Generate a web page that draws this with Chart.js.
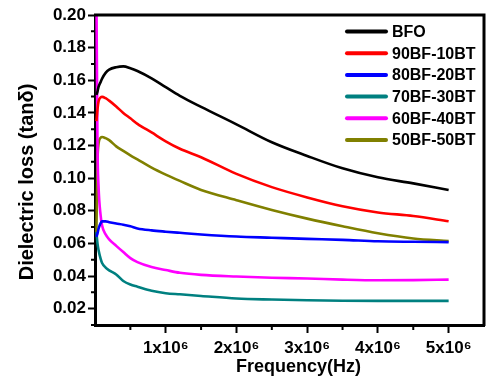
<!DOCTYPE html>
<html><head><meta charset="utf-8">
<script src="https://cdn.jsdelivr.net/npm/chart.js@4.4.1/dist/chart.umd.min.js"></script>
<style>html,body{margin:0;padding:0;background:#fff}</style>
</head><body>
<canvas id="c" width="486" height="380"></canvas>
<script>
// Frequency in Hz
const frequencies = [0.02e6,0.035e6,0.05e6,0.08e6,0.1e6,0.15e6,0.2e6,0.3e6,0.4e6,0.5e6,0.6e6,0.8e6,1.0e6,1.2e6,1.5e6,2.0e6,2.5e6,3.0e6,3.5e6,4.0e6,4.5e6,5.0e6];
const bfo      = [0.151,0.153,0.156,0.159,0.161,0.1645,0.1665,0.168,0.1685,0.1674,0.1657,0.1612,0.1558,0.1505,0.1437,0.133,0.122,0.1136,0.106,0.1005,0.0968,0.0927];
const bf90bt10 = [0.135,0.142,0.147,0.1495,0.1498,0.149,0.1475,0.1439,0.140,0.1367,0.1333,0.128,0.1226,0.118,0.1128,0.1026,0.0945,0.0882,0.0828,0.079,0.0768,0.0736];
const bf80bt20 = [0.064,0.066,0.069,0.0725,0.0735,0.0735,0.073,0.0722,0.0715,0.0705,0.0692,0.068,0.0672,0.0665,0.0655,0.0642,0.0635,0.0628,0.0622,0.0613,0.061,0.0608];
const bf70bt30 = [0.067,0.060,0.056,0.0505,0.048,0.0452,0.0435,0.041,0.037,0.0348,0.0335,0.031,0.0295,0.0288,0.0278,0.0262,0.0256,0.0252,0.0249,0.0248,0.0248,0.0248];
const bf60bt40 = [0.215,0.120,0.095,0.077,0.071,0.0655,0.0625,0.0585,0.0547,0.051,0.0485,0.0455,0.0437,0.042,0.0407,0.0397,0.039,0.0385,0.0378,0.0374,0.0375,0.0378];
const bf50bt50 = [0.067,0.110,0.121,0.1248,0.1252,0.1245,0.1233,0.1195,0.1167,0.114,0.1115,0.1065,0.1022,0.0983,0.0928,0.0865,0.0805,0.0752,0.0705,0.0662,0.063,0.0614];
const seriesLabels = ['BFO','90BF-10BT','80BF-20BT','70BF-30BT','60BF-40BT','50BF-50BT'];
const seriesColors = ['#000000','#ff0000','#0000ff','#008080','#ff00ff','#808000'];
const xTickValues = [1e6,2e6,3e6,4e6,5e6];
const xTickLabels = ['1x10\u2076','2x10\u2076','3x10\u2076','4x10\u2076','5x10\u2076'];
const xMinorValues = [0.5e6,1.5e6,2.5e6,3.5e6,4.5e6];
const yTickValues = [0.02,0.04,0.06,0.08,0.10,0.12,0.14,0.16,0.18,0.20];
const yMinorValues = [0.01,0.03,0.05,0.07,0.09,0.11,0.13,0.15,0.17,0.19];
const xTitle = 'Frequency(Hz)';
const yTitle = 'Dielectric loss (tan\u03b4)';

const allSeries = [bfo,bf90bt10,bf80bt20,bf70bt30,bf60bt40,bf50bt50];
const FONT = "'Liberation Sans', Arial, sans-serif";

const datasets = allSeries.map((vals, k) => ({
  label: seriesLabels[k],
  data: frequencies.map((f, i) => ({x: f, y: vals[i]})),
  borderColor: seriesColors[k],
  backgroundColor: seriesColors[k],
  borderWidth: 2.6,
  pointRadius: 0,
  cubicInterpolationMode: 'monotone',
  fill: false
}));

const decor = {
  id: 'decor',
  afterDraw(chart) {
    const {ctx, chartArea: {left, right, top, bottom}, scales: {x, y}} = chart;
    ctx.save();
    ctx.strokeStyle = '#000';
    ctx.lineWidth = 3;
    ctx.beginPath();
    ctx.moveTo(left - 1, top);
    ctx.lineTo(right, top);
    ctx.lineTo(right, bottom + 1);
    ctx.stroke();
    ctx.lineWidth = 2;
    ctx.beginPath();
    xMinorValues.forEach(v => {
      const px = x.getPixelForValue(v);
      ctx.moveTo(px, bottom); ctx.lineTo(px, bottom + 5);
    });
    yMinorValues.forEach(v => {
      const py = y.getPixelForValue(v);
      ctx.moveTo(left, py); ctx.lineTo(left - 4, py);
    });
    ctx.stroke();
    // axis titles
    ctx.fillStyle = '#000';
    ctx.textBaseline = 'alphabetic';
    ctx.textAlign = 'center';
    ctx.font = 'bold 18px ' + FONT;
    ctx.fillText(xTitle, left + 203.5, 372);
    ctx.save();
    ctx.translate(33, top + 167);
    ctx.rotate(-Math.PI / 2);
    ctx.font = 'bold 20px ' + FONT;
    ctx.fillText(yTitle, 0, 0);
    ctx.restore();
    // legend
    ctx.font = 'bold 16px ' + FONT;
    ctx.textBaseline = 'middle';
    ctx.textAlign = 'left';
    chart.data.datasets.forEach((ds, i) => {
      const yy = top + 16.5 + i * 21.7;
      ctx.strokeStyle = ds.borderColor;
      ctx.lineWidth = 4;
      ctx.lineCap = 'round';
      ctx.beginPath();
      ctx.moveTo(right - 137, yy); ctx.lineTo(right - 98, yy);
      ctx.stroke();
      ctx.fillStyle = '#000';
      ctx.fillText(ds.label, right - 92, yy + 1);
    });
    ctx.restore();
  }
};

new Chart(document.getElementById('c'), {
  type: 'line',
  data: {datasets},
  plugins: [decor],
  options: {
    responsive: false,
    animation: false,
    layout: {padding: {top: 15, right: 2, left: 0, bottom: 0}},
    plugins: {legend: {display: false}, tooltip: {enabled: false}},
    scales: {
      x: {
        type: 'linear', min: 0, max: 5.5e6,
        afterBuildTicks: s => { s.ticks = xTickValues.map(v => ({value: v})); },
        afterFit: s => { s.height = 55; },
        ticks: {
          callback: v => xTickLabels[xTickValues.indexOf(v)] || '',
          color: '#000', font: {family: FONT, size: 17, weight: 'bold'}, padding: 5, maxRotation: 0
        },
        grid: {drawOnChartArea: false, tickLength: 8, tickWidth: 2, tickColor: '#000'},
        border: {display: true, color: '#000', width: 3},
        title: {display: false}
      },
      y: {
        type: 'linear', min: 0.01, max: 0.20,
        afterBuildTicks: s => { s.ticks = yTickValues.map(v => ({value: v})); },
        afterFit: s => { s.width = 95; },
        ticks: {
          callback: v => v.toFixed(2),
          color: '#000', font: {family: FONT, size: 17, weight: 'bold'}, padding: 2
        },
        grid: {drawOnChartArea: false, tickLength: 7, tickWidth: 2, tickColor: '#000'},
        border: {display: true, color: '#000', width: 3},
        title: {display: false}
      }
    }
  }
});
</script>
</body></html>
